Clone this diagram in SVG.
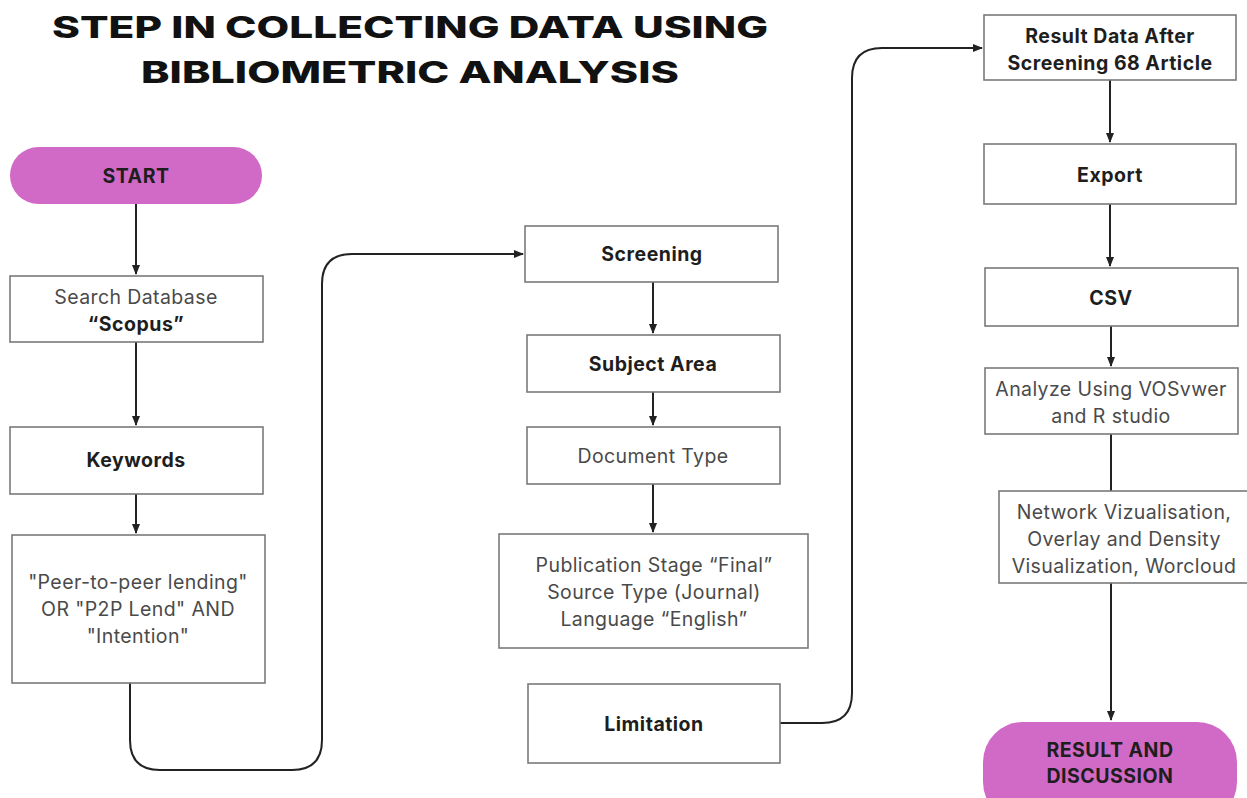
<svg xmlns="http://www.w3.org/2000/svg" width="1247" height="798" viewBox="0 0 1247 798">
  <style>
    .box { fill: #ffffff; stroke: #7a7a7a; stroke-width: 1.6; }
    .pill { fill: #d16ac6; stroke: none; }
    .t { font-family: Inter, "Open Sans", "Liberation Sans", sans-serif; font-size: 19.5px; letter-spacing: 0.4px; fill: #4a4a4a; text-anchor: middle; }
    .b { font-family: Inter, "Open Sans", "Liberation Sans", sans-serif; font-size: 19.5px; letter-spacing: 0.5px; font-weight: 700; fill: #1e1e1e; text-anchor: middle; }
    .title { font-family: Inter, "Liberation Sans", sans-serif; font-size: 30px; font-weight: 800; fill: #111111; text-anchor: middle; }
    .link { fill: none; stroke: #222222; stroke-width: 2; }
  </style>
  <defs>
    <marker id="arrow" viewBox="0 0 10 10" refX="9" refY="5" markerWidth="5" markerHeight="5" orient="auto" markerUnits="strokeWidth">
      <path d="M0,1 L10,5 L0,9 Z" fill="#222222"/>
    </marker>
  </defs>
  <rect width="1247" height="798" fill="#ffffff"/>

  <g id="title">
    <text class="title" x="410" y="38" textLength="716" lengthAdjust="spacingAndGlyphs">STEP IN COLLECTING DATA USING</text>
    <text class="title" x="410" y="83" textLength="538" lengthAdjust="spacingAndGlyphs">BIBLIOMETRIC ANALYSIS</text>
  </g>

  <g id="connectors">
    <line class="link" x1="136" y1="204" x2="136" y2="274" marker-end="url(#arrow)"/>
    <line class="link" x1="136" y1="342" x2="136" y2="425" marker-end="url(#arrow)"/>
    <line class="link" x1="136" y1="494" x2="136" y2="533" marker-end="url(#arrow)"/>
    <path class="link" d="M130,683 V740 Q130,770 160,770 H292 Q322,770 322,740 V284 Q322,254 352,254 H523" marker-end="url(#arrow)"/>
    <line class="link" x1="653" y1="282" x2="653" y2="333" marker-end="url(#arrow)"/>
    <line class="link" x1="653" y1="392" x2="653" y2="425" marker-end="url(#arrow)"/>
    <line class="link" x1="653" y1="484" x2="653" y2="532" marker-end="url(#arrow)"/>
    <path class="link" d="M780,723 H822 Q852,723 852,693 V78 Q852,48 882,48 H982" marker-end="url(#arrow)"/>
    <line class="link" x1="1110" y1="80" x2="1110" y2="142" marker-end="url(#arrow)"/>
    <line class="link" x1="1110" y1="204" x2="1110" y2="266" marker-end="url(#arrow)"/>
    <line class="link" x1="1111" y1="326" x2="1111" y2="366" marker-end="url(#arrow)"/>
    <line class="link" x1="1111" y1="434" x2="1111" y2="491"/>
    <line class="link" x1="1111" y1="583" x2="1111" y2="720" marker-end="url(#arrow)"/>
  </g>

  <g id="start">
    <rect class="pill" x="10" y="147" width="252" height="57" rx="28.5"/>
    <text class="b" x="136" y="183">START</text>
  </g>

  <g id="search-database">
    <rect class="box" x="10" y="276" width="253" height="66"/>
    <text class="t" x="136" y="304">Search Database</text>
    <text class="b" x="136" y="331">“Scopus”</text>
  </g>

  <g id="keywords">
    <rect class="box" x="10" y="427" width="253" height="67"/>
    <text class="b" x="136" y="467">Keywords</text>
  </g>

  <g id="query">
    <rect class="box" x="12" y="535" width="253" height="148"/>
    <text class="t" x="138" y="589">"Peer-to-peer lending"</text>
    <text class="t" x="138" y="616">OR "P2P Lend" AND</text>
    <text class="t" x="138" y="643">"Intention"</text>
  </g>

  <g id="screening">
    <rect class="box" x="525" y="226" width="253" height="56"/>
    <text class="b" x="652" y="261">Screening</text>
  </g>

  <g id="subject-area">
    <rect class="box" x="527" y="335" width="253" height="57"/>
    <text class="b" x="653" y="371">Subject Area</text>
  </g>

  <g id="document-type">
    <rect class="box" x="527" y="427" width="253" height="57"/>
    <text class="t" x="653" y="463">Document Type</text>
  </g>

  <g id="filters">
    <rect class="box" x="499" y="534" width="309" height="114"/>
    <text class="t" x="654" y="572">Publication Stage “Final”</text>
    <text class="t" x="654" y="599">Source Type (Journal)</text>
    <text class="t" x="654" y="626">Language “English”</text>
  </g>

  <g id="limitation">
    <rect class="box" x="528" y="684" width="252" height="79"/>
    <text class="b" x="654" y="731">Limitation</text>
  </g>

  <g id="result-data">
    <rect class="box" x="984" y="15" width="252" height="65"/>
    <text class="b" x="1110" y="43">Result Data After</text>
    <text class="b" x="1110" y="70">Screening 68 Article</text>
  </g>

  <g id="export">
    <rect class="box" x="984" y="144" width="252" height="60"/>
    <text class="b" x="1110" y="182">Export</text>
  </g>

  <g id="csv">
    <rect class="box" x="985" y="268" width="253" height="58"/>
    <text class="b" x="1111" y="305">CSV</text>
  </g>

  <g id="analyze">
    <rect class="box" x="985" y="368" width="253" height="66"/>
    <text class="t" x="1111" y="396">Analyze Using VOSvwer</text>
    <text class="t" x="1111" y="423">and R studio</text>
  </g>

  <g id="visualisation">
    <rect class="box" x="999" y="491" width="250" height="92"/>
    <text class="t" x="1124" y="519">Network Vizualisation,</text>
    <text class="t" x="1124" y="546">Overlay and Density</text>
    <text class="t" x="1124" y="573">Visualization, Worcloud</text>
  </g>

  <g id="result-discussion">
    <rect class="pill" x="983" y="722" width="254" height="100" rx="40"/>
    <text class="b" x="1110" y="757">RESULT AND</text>
    <text class="b" x="1110" y="783">DISCUSSION</text>
  </g>
</svg>
